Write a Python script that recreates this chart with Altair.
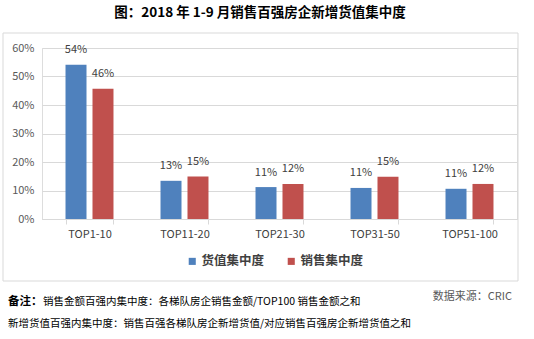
import altair as alt
import pandas as pd

categories = ["TOP1-10", "TOP11-20", "TOP21-30", "TOP31-50", "TOP51-100"]
series = ["货值集中度", "销售集中度"]
huozhi = [0.541, 0.134, 0.112, 0.109, 0.106]
xiaoshou = [0.457, 0.149, 0.123, 0.148, 0.123]
colors = ["#4F81BD", "#C0504D"]
y_ticks = [0, 0.1, 0.2, 0.3, 0.4, 0.5, 0.6]

title_text = "图：2018 年 1-9 月销售百强房企新增货值集中度"
note_bold = "备注："
note_1 = "销售金额百强内集中度：各梯队房企销售金额/TOP100 销售金额之和"
note_2 = "新增货值百强内集中度：销售百强各梯队房企新增货值/对应销售百强房企新增货值之和"
source_text = "数据来源：CRIC"

FONT = "Noto Sans CJK SC"

rows = []
for s, vals in zip(series, [huozhi, xiaoshou]):
    for c, v in zip(categories, vals):
        rows.append({"cat": c, "series": s, "value": v})
df = pd.DataFrame(rows)

W, H = 475, 171
OX, OY = 42, 48

x_enc = alt.X("cat:N", sort=categories,
              scale=alt.Scale(paddingInner=0.495, paddingOuter=0.2475),
              axis=alt.Axis(title=None, labelAngle=0, domainColor="#D9D9D9",
                            tickColor="#D9D9D9", tickSize=5, tickBand="extent",
                            labelPadding=4, labelFontSize=11, labelColor="#404040",
                            labelFont=FONT))
xo_enc = alt.XOffset("series:N", sort=series,
                     scale=alt.Scale(paddingInner=0.222, paddingOuter=0))
y_enc = alt.Y("value:Q", scale=alt.Scale(domain=[0, 0.6], nice=False),
              axis=alt.Axis(title=None, values=y_ticks, tickCount=7, format=".0%",
                            domain=False, ticks=False, gridColor="#D9D9D9",
                            labelPadding=8, labelOverlap=False, labelFontSize=11,
                            labelColor="#595959", labelFont=FONT))

bars = alt.Chart(df).mark_bar().encode(
    x=x_enc, xOffset=xo_enc, y=y_enc,
    color=alt.Color("series:N", sort=series,
                    scale=alt.Scale(domain=series, range=colors),
                    legend=alt.Legend(title=None, orient="none", direction="horizontal",
                                      legendX=144, legendY=207, symbolType="square",
                                      symbolSize=50, symbolStrokeWidth=0,
                                      labelFontSize=12.5, labelFontWeight="bold",
                                      labelColor="#404040", labelFont=FONT,
                                      columnPadding=20, symbolOffset=0, labelOffset=3)),
)

labels = alt.Chart(df).mark_text(dy=-14.5, baseline="middle", fontSize=11,
                                 color="#404040", font=FONT).encode(
    x=x_enc, xOffset=xo_enc, y=y_enc,
    text=alt.Text("value:Q", format=".0%"))

one = pd.DataFrame({"k": [0]})

box = alt.Chart(one).mark_rect(fill=None, stroke="#D9D9D9", strokeWidth=1).encode(
    x=alt.value(3 - OX), x2=alt.value(518 - OX), y=alt.value(33 - OY), y2=alt.value(281 - OY))

def txt(text, x, y, size, weight="normal", color="#404040", align="left"):
    return alt.Chart(pd.DataFrame({"t": [text]})).mark_text(
        align=align, baseline="middle", fontSize=size, fontWeight=weight,
        color=color, font=FONT).encode(x=alt.value(x - OX), y=alt.value(y - OY), text="t:N")

title = txt(title_text, 260, 13, 13.5, "bold", "#000000", "center")
n0 = txt(note_bold, 8, 302, 11.5, "bold", "#000000")
n1 = txt(note_1, 43, 302, 10.5, "normal", "#000000")
n2 = txt(note_2, 8, 324, 10.5, "normal", "#000000")
src = txt(source_text, 512, 297, 11, "normal", "#595959", "right")

chart = alt.layer(bars, labels, box, title, n0, n1, n2, src).properties(
    width=W, height=H,
    autosize=alt.AutoSizeParams(type="none"),
    padding={"left": OX, "top": OY, "right": 534 - OX - W, "bottom": 339 - OY - H},
).configure_view(stroke=None).configure(font=FONT)

chart.save("out.html", embed_options={"renderer": "svg", "actions": False})
